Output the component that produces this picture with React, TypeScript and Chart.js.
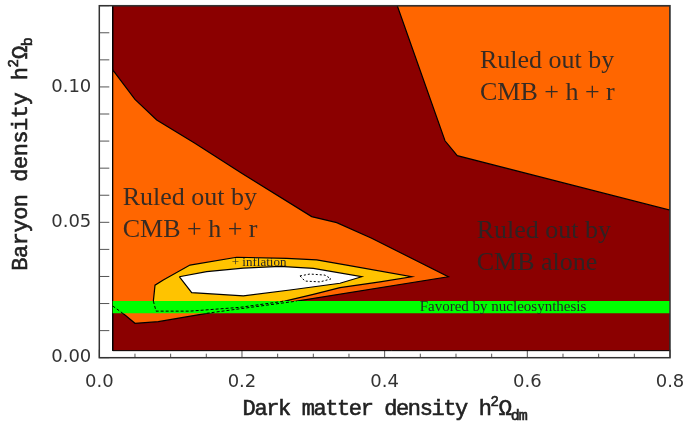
import React, { useEffect, useRef } from "react";
import { Chart, registerables } from "chart.js";

Chart.register(...registerables);

// ---------- axis ranges & ticks ----------
const X_MIN = 0;
const X_MAX = 0.8;
const Y_MIN = 0;
const Y_MAX = 0.13;
const X_STEP = 0.05;
const Y_STEP = 0.01;
const xTickValues = [0.0, 0.2, 0.4, 0.6, 0.8];
const xTickLabels = ["0.0", "0.2", "0.4", "0.6", "0.8"];
const yTickValues = [0.0, 0.05, 0.1];
const yTickLabels = ["0.00", "0.05", "0.10"];

// ---------- regions (x = h²Ω_dm, y = h²Ω_b) ----------
type P = [number, number];
const cmbAloneRegion: P[] = [
  [0.0188, 0.0026], [0.8, 0.0026], [0.8, 0.13], [0.0188, 0.13], [0.0188, 0.0026],
];
const cmbHrLeftRegion: P[] = [
  [0.0188, 0.1063], [0.05, 0.0954], [0.0805, 0.0878], [0.134, 0.0792], [0.1996, 0.0681],
  [0.2977, 0.0521], [0.3328, 0.0499], [0.3818, 0.0441], [0.4892, 0.0299],
  [0.2767, 0.0209], [0.1505, 0.0164], [0.0827, 0.0133], [0.05, 0.0127],
  [0.036, 0.0158], [0.0188, 0.0191], [0.0188, 0.1063],
];
const cmbHrRightRegion: P[] = [
  [0.4177, 0.13], [0.8, 0.13], [0.8, 0.0545], [0.5018, 0.0746], [0.4846, 0.0801], [0.4177, 0.13],
];
const inflationRegion: P[] = [
  [0.0757, 0.0207], [0.0781, 0.0268], [0.0897, 0.0287], [0.1271, 0.0342], [0.1926, 0.0371],
  [0.2627, 0.0367], [0.3047, 0.0361], [0.3468, 0.0342], [0.4379, 0.0299],
  [0.3935, 0.028], [0.3374, 0.0259], [0.30, 0.0234], [0.26, 0.0209], [0.1972, 0.0186],
  [0.1271, 0.0172], [0.0795, 0.0172], [0.0757, 0.0207],
];
const allowedRegion: P[] = [
  [0.1121, 0.0299], [0.1295, 0.024], [0.2019, 0.0228], [0.2673, 0.025], [0.3374, 0.0275],
  [0.3678, 0.0299], [0.30, 0.0330], [0.2533, 0.0337], [0.2019, 0.0331], [0.1505, 0.0318],
  [0.1121, 0.0299],
];
const innerLoop: P[] = [
  [0.2813, 0.0302], [0.2953, 0.0309], [0.3164, 0.0305], [0.3248, 0.0291],
  [0.3094, 0.028], [0.2883, 0.0283], [0.2813, 0.0302],
];
const nucleoBand: P[] = [
  [0.0188, 0.0164], [0.8, 0.0164], [0.8, 0.0209], [0.0188, 0.0209], [0.0188, 0.0164],
];
// contour parts hidden by the band, drawn dashed on top of it
const dashedInflationEdge: P[] = [
  [0.0758, 0.0209], [0.0795, 0.0172], [0.1271, 0.0172], [0.1972, 0.0186], [0.26, 0.0209],
];
const dashedHrEdgeRight: P[] = [[0.1505, 0.0164], [0.2767, 0.0209]];
const dashedHrEdgeLeft: P[] = [[0.0188, 0.0191], [0.0329, 0.0164]];

// ---------- text annotations ----------
const regionTexts = [
  { lines: ["Ruled out by", "CMB + h + r"], x: 0.5336, y: 0.1069 },
  { lines: ["Ruled out by", "CMB + h + r"], x: 0.0328, y: 0.0564 },
  { lines: ["Ruled out by", "CMB alone"], x: 0.529, y: 0.0441 },
];
const bandText = { text: "Favored by nucleosynthesis", x: 0.5659, y: 0.0171 };
const inflationText = { text: "+ inflation", x: 0.224, y: 0.034 };

const COLORS = {
  darkRed: "#8B0000",
  orange: "#FF6600",
  yellow: "#FFC300",
  white: "#FFFFFF",
  green: "#00FF00",
};

function poly(points: P[], fillColor: string | null, order: number, opts: any = {}) {
  return {
    data: points.map(([x, y]) => ({ x, y })),
    showLine: true,
    fill: fillColor ? "shape" : false,
    backgroundColor: fillColor || "rgba(0,0,0,0)",
    borderColor: opts.borderColor ?? "#000",
    borderWidth: opts.borderWidth ?? 1.2,
    borderDash: opts.borderDash ?? [],
    borderJoinStyle: "miter",
    pointRadius: 0,
    pointHoverRadius: 0,
    tension: 0,
    order,
  };
}

function drawRich(ctx: CanvasRenderingContext2D, parts: any[], cx: number, y: number) {
  let total = 0;
  const widths: number[] = [];
  for (const p of parts) {
    ctx.font = p.font;
    (ctx as any).letterSpacing = (p.ls ?? 0) + "px";
    const w = ctx.measureText(p.text).width;
    widths.push(w);
    total += w;
  }
  let x = cx - total / 2;
  parts.forEach((p, i) => {
    ctx.font = p.font;
    (ctx as any).letterSpacing = (p.ls ?? 0) + "px";
    ctx.fillText(p.text, x, y + (p.dy ?? 0));
    ctx.strokeText(p.text, x, y + (p.dy ?? 0));
    x += widths[i];
  });
  (ctx as any).letterSpacing = "0px";
}

const decorPlugin = {
  id: "decor",
  beforeDatasetsDraw(chart: any) {
    const { ctx, chartArea: a, scales } = chart;
    ctx.save();
    ctx.strokeStyle = "#555";
    ctx.lineWidth = 1;
    for (const t of scales.x.ticks) {
      const px = scales.x.getPixelForValue(t.value);
      const major = xTickValues.some((v) => Math.abs(v - t.value) < 1e-6);
      ctx.beginPath();
      ctx.moveTo(px, a.bottom);
      ctx.lineTo(px, a.bottom - (major ? 8 : 4));
      ctx.stroke();
    }
    for (const t of scales.y.ticks) {
      const py = scales.y.getPixelForValue(t.value);
      ctx.beginPath();
      ctx.moveTo(a.left, py);
      ctx.lineTo(a.left + 10, py);
      ctx.stroke();
    }
    ctx.restore();
  },
  afterDatasetsDraw(chart: any) {
    const { ctx, chartArea: a, scales } = chart;
    const sx = (v: number) => scales.x.getPixelForValue(v);
    const sy = (v: number) => scales.y.getPixelForValue(v);
    ctx.save();
    ctx.textBaseline = "alphabetic";
    ctx.textAlign = "left";
    ctx.fillStyle = "rgba(38,38,38,0.92)";
    ctx.font = "26px 'Liberation Serif'";
    for (const r of regionTexts) {
      r.lines.forEach((line, i) => ctx.fillText(line, sx(r.x), sy(r.y) + i * 32));
    }
    ctx.textAlign = "center";
    ctx.font = "15px 'Liberation Serif'";
    ctx.fillStyle = "#262626";
    ctx.fillText(bandText.text, sx(bandText.x), sy(bandText.y));
    ctx.font = "13px 'Liberation Serif'";
    ctx.fillText(inflationText.text, sx(inflationText.x), sy(inflationText.y));

    // frame
    ctx.strokeStyle = "#333";
    ctx.lineWidth = 1.5;
    ctx.strokeRect(a.left, a.top, a.right - a.left, a.bottom - a.top);

    // axis titles
    ctx.fillStyle = "#222";
    ctx.strokeStyle = "#222";
    ctx.lineWidth = 0.6;
    ctx.textAlign = "left";
    const mono = "'Liberation Mono', 'DejaVu Sans Mono', monospace";
    drawRich(
      ctx,
      [
        { text: "Dark matter density h", font: `22px ${mono}`, ls: -1.4 },
        { text: "2", font: `14px ${mono}`, dy: -9 },
        { text: "Ω", font: `22px ${mono}`, ls: -1.4 },
        { text: "dm", font: `15px ${mono}`, dy: 5, ls: -1 },
      ],
      (a.left + a.right) / 2,
      a.bottom + 57
    );
    ctx.save();
    ctx.translate(a.left - 72, 154);
    ctx.rotate(-Math.PI / 2);
    drawRich(
      ctx,
      [
        { text: "Baryon density h", font: `22px ${mono}`, ls: -0.5 },
        { text: "2", font: `14px ${mono}`, dy: -9 },
        { text: "Ω", font: `22px ${mono}`, ls: -0.5 },
        { text: "b", font: `15px ${mono}`, dy: 5 },
      ],
      0,
      0
    );
    ctx.restore();
    ctx.restore();
  },
};

export default function App() {
  const ref = useRef<HTMLCanvasElement>(null);
  useEffect(() => {
    if (!ref.current) return;
    const tickFont = { family: "'DejaVu Sans', sans-serif", size: 18 };
    const chart = new Chart(ref.current, {
      type: "scatter",
      data: {
        datasets: [
          poly(cmbAloneRegion, COLORS.darkRed, 10, { borderWidth: 1 }),
          poly(cmbHrLeftRegion, COLORS.orange, 9),
          poly(cmbHrRightRegion, COLORS.orange, 9),
          poly(inflationRegion, COLORS.yellow, 8),
          poly(allowedRegion, COLORS.white, 7),
          poly(innerLoop, null, 6, { borderDash: [2, 2], borderWidth: 1 }),
          poly(nucleoBand, COLORS.green, 5, { borderColor: "rgba(0,0,0,0)", borderWidth: 0 }),
          poly(dashedInflationEdge, null, 4, { borderDash: [3, 2], borderWidth: 1 }),
          poly(dashedHrEdgeRight, null, 4, { borderDash: [3, 2], borderWidth: 1 }),
          poly(dashedHrEdgeLeft, null, 4, { borderDash: [3, 2], borderWidth: 1 }),
        ] as any,
      },
      options: {
        animation: false,
        responsive: true,
        maintainAspectRatio: false,
        events: [],
        layout: { padding: { top: 5.7, right: 16, left: 0, bottom: 0 } },
        plugins: { legend: { display: false }, tooltip: { enabled: false } },
        scales: {
          x: {
            type: "linear",
            min: X_MIN,
            max: X_MAX,
            grid: { display: false, drawTicks: false },
            border: { display: false },
            afterFit: (s: any) => {
              s.height = 66.3;
              s.paddingLeft = 0;
              s.paddingRight = 0;
            },
            ticks: {
              stepSize: X_STEP,
              autoSkip: false,
              maxRotation: 0,
              padding: 14,
              color: "#333",
              font: tickFont,
              callback: (v: any) => {
                const i = xTickValues.findIndex((t) => Math.abs(t - Number(v)) < 1e-6);
                return i >= 0 ? xTickLabels[i] : "";
              },
            },
          },
          y: {
            type: "linear",
            min: Y_MIN,
            max: Y_MAX,
            grid: { display: false, drawTicks: false },
            border: { display: false },
            afterFit: (s: any) => {
              s.width = 99.3;
              s.paddingTop = 0;
              s.paddingBottom = 0;
            },
            ticks: {
              stepSize: Y_STEP,
              autoSkip: false,
              padding: 8,
              color: "#333",
              font: tickFont,
              callback: (v: any) => {
                const i = yTickValues.findIndex((t) => Math.abs(t - Number(v)) < 1e-6);
                return i >= 0 ? yTickLabels[i] : "";
              },
            },
          },
        },
      },
      plugins: [decorPlugin],
    } as any);
    return () => chart.destroy();
  }, []);
  return (
    <div style={{ position: "absolute", left: 0, top: 0, width: 686, height: 424, background: "#fff" }}>
      <canvas ref={ref} />
    </div>
  );
}
